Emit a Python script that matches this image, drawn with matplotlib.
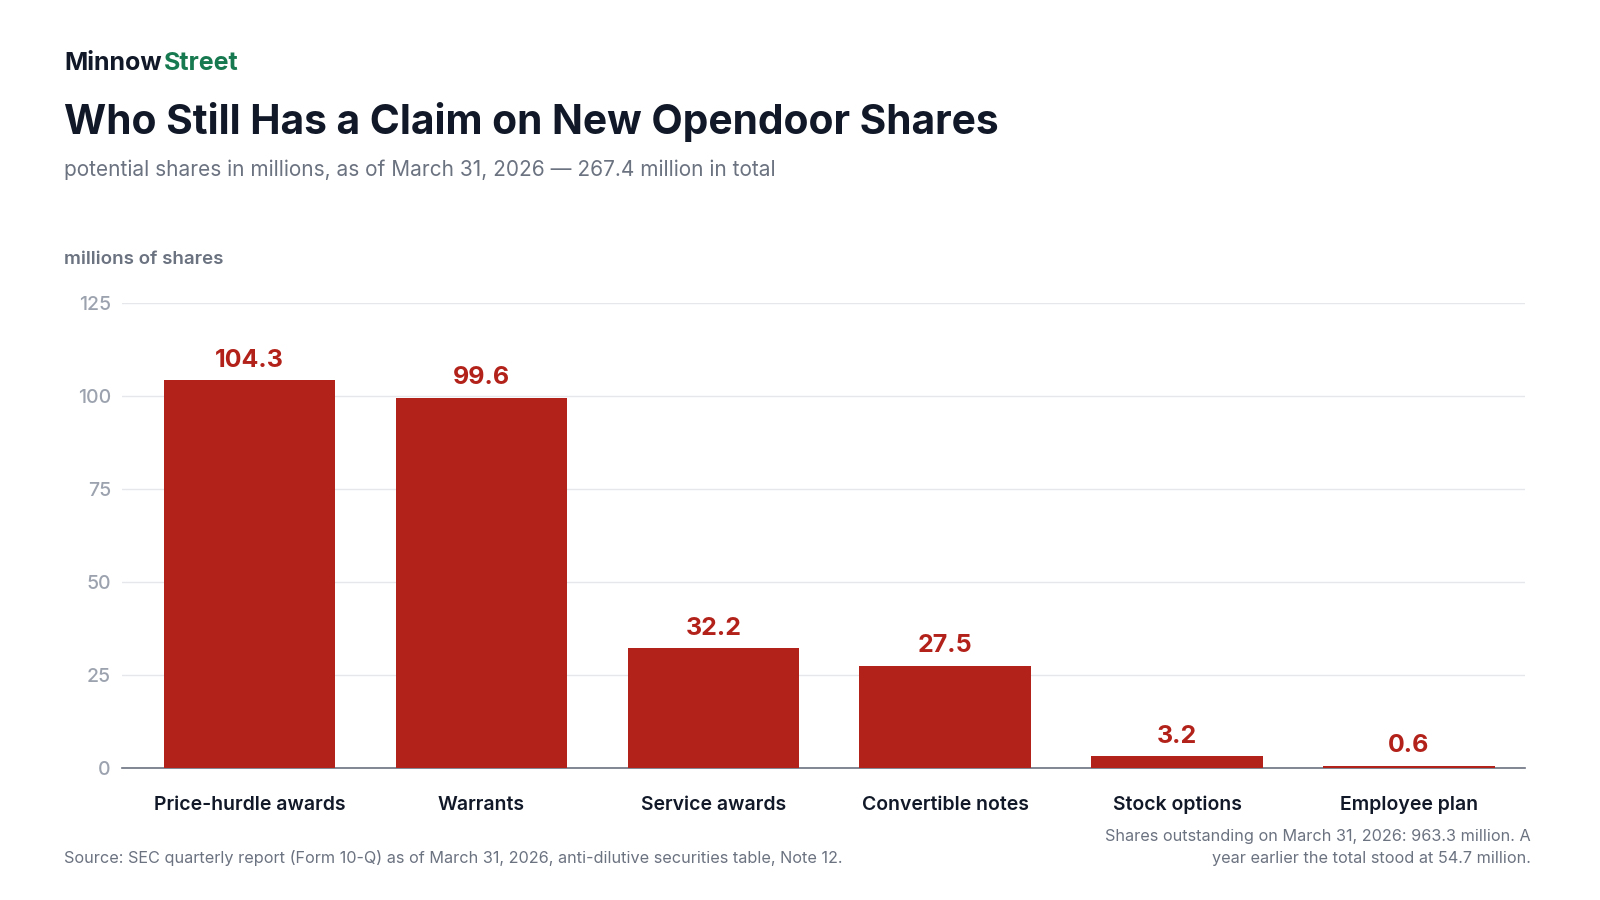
import matplotlib.pyplot as plt


# chart data
categories = ['Price-hurdle awards', 'Warrants', 'Service awards',
              'Convertible notes', 'Stock options', 'Employee plan']
shares = [104.3, 99.6, 32.2, 27.5, 3.2, 0.6]
y_ticks = [0, 25, 50, 75, 100, 125]

red = '#B3221A'
dark = '#111827'
gray = '#6B7280'

plt.rcParams['font.family'] = ['Inter', 'DejaVu Sans']


# draw plot
def visualization():
    fig = plt.figure(figsize=(16, 9), dpi=100)
    ax = fig.add_axes([0.0763, 0.1465, 0.8767, 0.5165])

    ax.bar(range(len(categories)), shares, width=0.74, color=red, zorder=3)
    for i, v in enumerate(shares):
        ax.text(i, v + 2.3, f'{v:.1f}', ha='center', va='bottom',
                fontsize=18, fontweight='bold', color=red)

    ax.set_xlim(-0.55, 5.5)
    ax.set_ylim(0, 125)
    ax.set_yticks(y_ticks)
    ax.set_xticks(range(len(categories)))
    ax.set_xticklabels(categories, fontsize=14, fontweight='semibold', color=dark)
    for lbl in ax.get_yticklabels():
        lbl.set_fontweight('medium')
    ax.tick_params(axis='y', labelsize=14, colors='#9CA3AF', length=0, pad=8)
    ax.tick_params(axis='x', length=0, pad=20)
    ax.grid(axis='y', color='#E5E7EB', linewidth=1, zorder=0)
    for s in ['top', 'right', 'left']:
        ax.spines[s].set_visible(False)
    ax.spines['bottom'].set_color('#6B7280')
    ax.spines['bottom'].set_linewidth(1.2)

    # header texts
    fig.text(0.040, 0.922, 'Minnow', fontsize=18, fontweight='bold', color=dark)
    fig.text(0.1024, 0.922, 'Street', fontsize=18, fontweight='bold', color='#16794F')
    fig.text(0.040, 0.851, 'Who Still Has a Claim on New Opendoor Shares',
             fontsize=29.3, fontweight='bold', color=dark)
    fig.text(0.040, 0.805, 'potential shares in millions, as of March 31, 2026 \u2014 267.4 million in total',
             fontsize=15, color=gray)
    fig.text(0.040, 0.7066, 'millions of shares', fontsize=13.5, fontweight='semibold', color=gray)

    # footer texts
    fig.text(0.040, 0.041, 'Source: SEC quarterly report (Form 10-Q) as of March 31, 2026, anti-dilutive securities table, Note 12.',
             fontsize=11.7, color=gray)
    fig.text(0.957, 0.041, 'Shares outstanding on March 31, 2026: 963.3 million. A\nyear earlier the total stood at 54.7 million.',
             fontsize=11.7, color=gray, ha='right', linespacing=1.6)

    fig.savefig('out.png')


# main function
if __name__ == "__main__":
    visualization()
